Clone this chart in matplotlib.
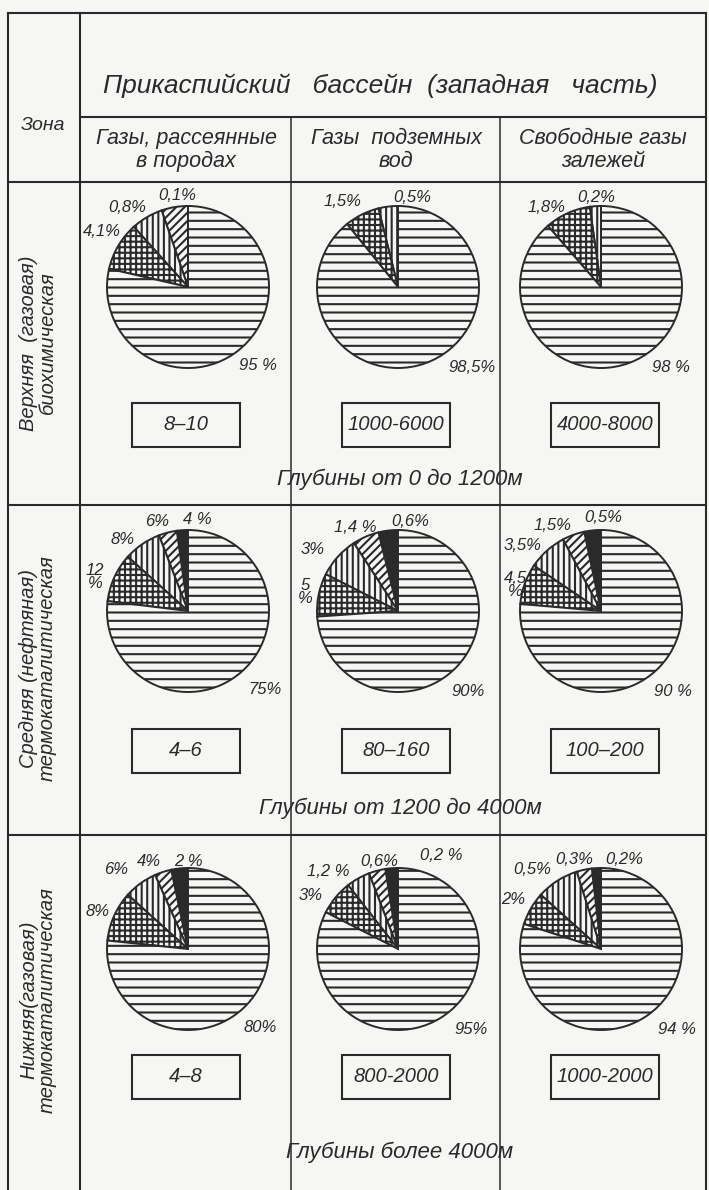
import matplotlib
matplotlib.use("Agg")
import matplotlib.pyplot as plt
from matplotlib.patches import Rectangle

W, H = 709, 1190

title = "Прикаспийский   бассейн  (западная   часть)"
col_titles = ["Газы, рассеянные\nв породах", "Газы  подземных\nвод", "Свободные газы\nзалежей"]
zones = ["Верхняя  (газовая)\nбиохимическая",
         "Средняя (нефтяная)\nтермокаталитическая",
         "Нижняя(газовая)\nтермокаталитическая"]
depths = ["Глубины от 0 до 1200м", "Глубины от 1200 до 4000м", "Глубины более 4000м"]
ratios = [["8–10", "1000-6000", "4000-8000"],
          ["4–6", "80–160", "100–200"],
          ["4–8", "800-2000", "1000-2000"]]

# sector order: black, diagonal, vertical, cross, horizontal (rest)
# sector sizes in degrees as drawn (schematic, not to scale)
drawn_deg = [
    [[0, 19, 23, 35], [0, 0, 14, 25], [0, 0, 8, 33]],
    [[8, 13, 27, 35], [14, 19, 30, 31], [12, 16, 28, 29]],
    [[12, 12, 24, 36], [9, 12, 17, 25], [6.5, 11, 30.5, 24]],
]
pct_labels = [
    [["", "0,1%", "0,8%", "4,1%", "95 %"], ["", "", "0,5%", "1,5%", "98,5%"], ["", "", "0,2%", "1,8%", "98 %"]],
    [["4 %", "6%", "8%", "12\n%", "75%"], ["0,6%", "1,4 %", "3%", "5\n%", "90%"], ["0,5%", "1,5%", "3,5%", "4,5\n%", "90 %"]],
    [["2 %", "4%", "6%", "8%", "80%"], ["0,2 %", "0,6%", "1,2 %", "3%", "95%"], ["0,2%", "0,3%", "0,5%", "2%", "94 %"]],
]
# label offsets from pie centre, pixels (x right, y down)
label_off = [
    [[None, (-11, -92), (-61, -80), (-86, -55), (70, 78)],
     [None, None, (14, -90), (-55, -85), (74, 81)],
     [None, None, (-5, -89), (-55, -80), (70, 81)]],
    [[(9, -91), (-31, -89), (-65, -71), (-93, -34), (77, 79)],
     [(12, -89), (-43, -84), (-85, -62), (-93, -19), (70, 81)],
     [(2, -93), (-48, -86), (-78, -65), (-86, -26), (72, 80)]],
    [[(0, -88), (-39, -88), (-72, -80), (-90, -38), (72, 79)],
     [(43, -93), (-19, -88), (-70, -78), (-87, -53), (73, 80)],
     [(23, -89), (-27, -89), (-69, -79), (-88, -49), (76, 81)]],
]

col_x = [188, 398, 601]
row_y = [287, 611, 949]
R = 81
box_y = [425, 751, 1077]
box_x = [186, 396, 605]
depth_y = [479, 808, 1152]
zone_y = [343, 668, 1000]

ink = "#2a2a2a"
paper = "#f6f6f4"
font = dict(family=["Liberation Sans", "DejaVu Sans"], style="italic", color=ink)

plt.rcParams["hatch.linewidth"] = 1.5
plt.rcParams["hatch.color"] = ink

fig = plt.figure(figsize=(W / 100, H / 100), dpi=100, facecolor=paper)
ax = fig.add_axes([0, 0, 1, 1])
ax.set_facecolor(paper)

def Y(y):
    return H - y

hatches = ["", "////", "|||", "+++", "--"]
colors = [ink, paper, paper, paper, paper]

for r in range(3):
    for c in range(3):
        small = drawn_deg[r][c]
        sizes = small + [360 - sum(small)]
        keep = [i for i, s in enumerate(sizes) if s > 0]
        ax.pie([sizes[i] for i in keep], startangle=90, counterclock=True,
               center=(col_x[c], Y(row_y[r])), radius=R,
               colors=[colors[i] for i in keep], hatch=[hatches[i] for i in keep],
               wedgeprops=dict(edgecolor=ink, linewidth=1.4), frame=True)
        for i in range(5):
            off = label_off[r][c][i]
            if off is None:
                continue
            ax.text(col_x[c] + off[0], Y(row_y[r] + off[1]), pct_labels[r][c][i],
                    ha="center", va="center", fontsize=12, linespacing=0.85, **font)
        bw, bh = 108, 44
        ax.add_patch(Rectangle((box_x[c] - bw / 2, Y(box_y[r] + bh / 2)), bw, bh,
                               fill=False, edgecolor=ink, linewidth=1.5))
        ax.text(box_x[c], Y(box_y[r]), ratios[r][c], ha="center", va="center",
                fontsize=14.5, **font)
    ax.text(400, Y(depth_y[r]), depths[r], ha="center", va="center", fontsize=16, **font)
    ax.text(38, Y(zone_y[r]), zones[r], ha="center", va="center", rotation=90,
            fontsize=14.5, linespacing=1.0, multialignment="center", **font)

# table grid
lw = 1.5
ax.plot([8, 706], [Y(13), Y(13)], color=ink, lw=lw)
ax.plot([80, 706], [Y(117), Y(117)], color=ink, lw=lw)
for yy in [182, 505, 835]:
    ax.plot([8, 706], [Y(yy), Y(yy)], color=ink, lw=lw)
for xx in [8, 80, 706]:
    ax.plot([xx, xx], [Y(13), Y(1190)], color=ink, lw=lw)
for xx in [291, 500]:
    ax.plot([xx, xx], [Y(117), Y(1190)], color=ink, lw=1.1)

ax.text(380, Y(86), title, ha="center", va="center", fontsize=19, **font)
ax.text(43, Y(125), "Зона", ha="center", va="center", fontsize=14, **font)
for c, t in enumerate(col_titles):
    ax.text([186, 396, 603][c], Y(150), t, ha="center", va="center",
            fontsize=15.5, linespacing=1.1, **font)

ax.set_xlim(0, W)
ax.set_ylim(0, H)
ax.set_aspect("equal")
ax.axis("off")

fig.savefig("out.png", dpi=100, facecolor=paper)
